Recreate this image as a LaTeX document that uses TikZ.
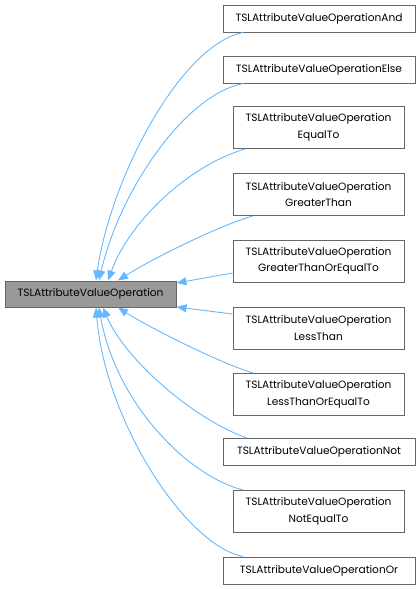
\documentclass[tikz,border=0pt]{standalone}
\usepackage{fontspec}
\setmainfont{Poppins}
\usetikzlibrary{arrows.meta}
\definecolor{edgeblue}{HTML}{63B8FF}
\definecolor{boxborder}{HTML}{666666}
\definecolor{mainfill}{HTML}{999999}
\begin{document}
\begin{tikzpicture}[x=1pt,y=-1pt,
  box/.style={draw=boxborder, line width=1pt, fill=white, inner sep=0pt, align=center, font=\fontsize{10.6}{16.5}\selectfont},
  wide/.style={box, minimum width=192pt, minimum height=27pt},
  tall/.style={box, minimum width=171pt, minimum height=42pt},
  mainbox/.style={box, fill=mainfill, minimum width=171pt, minimum height=26pt},
  edge/.style={draw=edgeblue, line width=0.9pt, arrows={Triangle[length=10pt,width=8pt]-}}]
\path[use as bounding box] (0,0) rectangle (420,589);
\node[mainbox] (main) at (90.5,294) {TSLAttributeValueOperation};
\node[wide] (andb) at (319,18.5) {TSLAttributeValueOperationAnd};
\node[wide] (elseb) at (319,69.5) {TSLAttributeValueOperationElse};
\node[tall] (eqb) at (318.5,127.5) {TSLAttributeValueOperation\\EqualTo};
\node[tall] (gtb) at (318.5,194.5) {TSLAttributeValueOperation\\GreaterThan};
\node[tall] (gteb) at (318.5,261) {TSLAttributeValueOperation\\GreaterThanOrEqualTo};
\node[tall] (ltb) at (318.5,328) {TSLAttributeValueOperation\\LessThan};
\node[tall] (lteb) at (318.5,394.5) {TSLAttributeValueOperation\\LessThanOrEqualTo};
\node[wide] (notb) at (319,452) {TSLAttributeValueOperationNot};
\node[tall] (neqb) at (318.5,511.5) {TSLAttributeValueOperation\\NotEqualTo};
\node[wide] (orb) at (319,570.5) {TSLAttributeValueOperationOr};
\draw[edge] ([xshift=5.5pt]main.north) .. controls (110,180) and (180,45) .. ([xshift=-76pt]andb.south);
\draw[edge] ([xshift=8.5pt]main.north) .. controls (120,190) and (185,95) .. ([xshift=-76pt]elseb.south);
\draw[edge] ([xshift=17.5pt]main.north) .. controls (130,220) and (190,165) .. ([xshift=-73.5pt]eqb.south);
\draw[edge] ([xshift=27.5pt]main.north) .. controls (150,260) and (220,225) .. ([xshift=-65.5pt]gtb.south);
\draw[edge] ([yshift=11pt]main.east) -- ([yshift=-12pt]gteb.west);
\draw[edge] ([yshift=-13pt]main.east) -- ([yshift=14pt]ltb.west);
\draw[edge] ([xshift=27.5pt]main.south) .. controls (150,328) and (220,363) .. ([xshift=-65.5pt]lteb.north);
\draw[edge] ([xshift=12.5pt]main.south) .. controls (125,360) and (195,420) .. ([xshift=-72pt]notb.north);
\draw[edge] ([xshift=8.5pt]main.south) .. controls (115,400) and (185,475) .. ([xshift=-75.5pt]neqb.north);
\draw[edge] ([xshift=5.5pt]main.south) .. controls (105,420) and (185,545) .. ([xshift=-76pt]orb.north);
\end{tikzpicture}
\end{document}
